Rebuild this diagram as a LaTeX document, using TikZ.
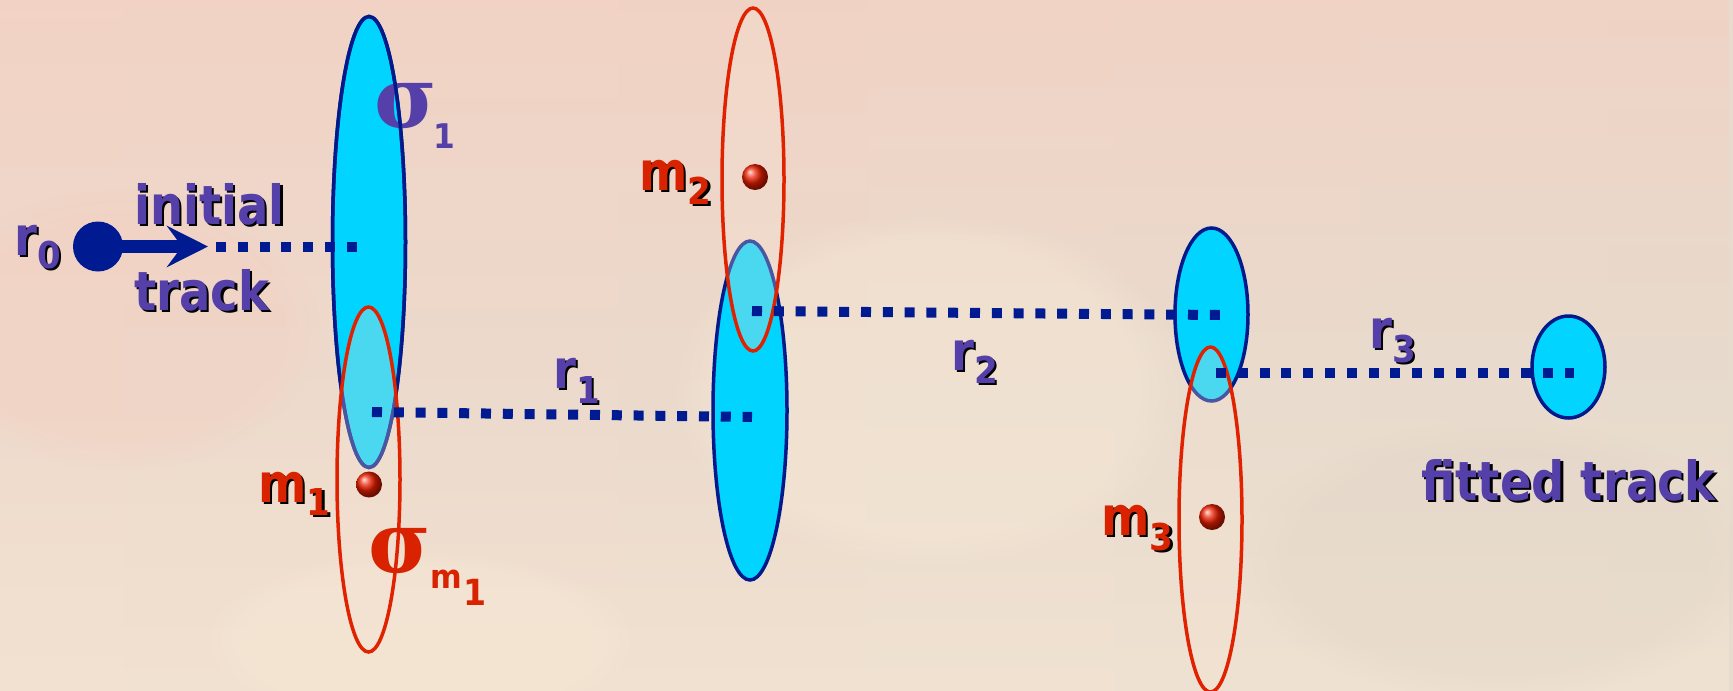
\documentclass[tikz,border=0pt]{standalone}
\usepackage{fontspec}
\setmainfont{DejaVu Sans}
\newfontfamily\labfont[FakeStretch=0.86]{DejaVu Sans}
\newfontfamily\subfont[FakeStretch=0.92]{DejaVu Sans}
\newfontfamily\grkfont{DejaVu Serif}
\usetikzlibrary{arrows.meta,fadings}
\definecolor{bgL}{RGB}{238,218,204}
\definecolor{bgR}{RGB}{231,219,205}
\definecolor{bgPink}{RGB}{245,206,192}
\definecolor{bgCream}{RGB}{247,233,214}
\definecolor{cyanfill}{RGB}{0,212,255}
\definecolor{navyline}{RGB}{0,26,140}
\definecolor{navydot}{RGB}{0,26,145}
\definecolor{redline}{RGB}{224,34,0}
\definecolor{redfill}{RGB}{246,226,210}
\definecolor{txtpurple}{RGB}{84,64,168}
\definecolor{txtred}{RGB}{216,34,0}
\definecolor{ballred}{RGB}{235,30,0}
\newcommand{\shd}[1]{\makebox[0pt][l]{\kern2.5pt\raisebox{-2.5pt}{\color{black}#1}}#1}
\newcommand{\bigsz}{\labfont\bfseries\fontsize{54}{60}\selectfont}
\newcommand{\subsz}{\subfont\bfseries\fontsize{37}{40}\selectfont}
\newcommand{\msub}[2]{\raisebox{-#1}{\subsz #2}}
\tikzset{
  lab/.style={inner sep=0pt, anchor=base west, font=\bigsz},
  purp/.style={text=txtpurple},
  redt/.style={text=txtred},
  grk/.style={inner sep=0pt, anchor=base west, font=\grkfont\bfseries\fontsize{85}{95}\selectfont},
  blueell/.style={fill=cyanfill, draw=navyline, line width=3.5pt},
  blueout/.style={draw=navyline, line width=3.5pt},
  redell/.style={draw=redline, line width=3.5pt, fill=redfill, fill opacity=0.3},
  trackdots/.style={draw=navydot, line width=10pt, dash pattern=on 10pt off 11.8pt},
  meas/.style={ball color=ballred},
}
\begin{document}
\begin{tikzpicture}[x=1pt,y=-1pt]
\useasboundingbox (0,0) rectangle (1733,691);
% background
\shade[left color=bgL, right color=bgR] (0,0) rectangle (1733,691);
\fill[bgPink, path fading=south, fill opacity=0.6] (0,0) rectangle (1733,380);
\fill[bgCream, path fading=north, fill opacity=0.5] (0,380) rectangle (1733,691);
\fill[bgCream, path fading=circle with fuzzy edge 20 percent, fill opacity=0.45] (930,390) ellipse [x radius=260pt, y radius=180pt];
\fill[bgCream, path fading=circle with fuzzy edge 20 percent, fill opacity=0.45] (420,640) ellipse [x radius=220pt, y radius=90pt];
\fill[bgPink, path fading=circle with fuzzy edge 20 percent, fill opacity=0.35] (120,330) ellipse [x radius=200pt, y radius=140pt];
\fill[bgR!90!gray, path fading=circle with fuzzy edge 20 percent, fill opacity=0.3] (1500,560) ellipse [x radius=260pt, y radius=140pt];

% blue (fitted) ellipses
\path[blueell] (369,242) ellipse [x radius=36.5pt, y radius=225.5pt];
\path[blueell] (750,410.5) ellipse [x radius=37pt, y radius=169.5pt];
\path[blueell] (1211.5,314.5) ellipse [x radius=36.5pt, y radius=86.5pt];
\path[blueell] (1568.5,367) ellipse [x radius=36.5pt, y radius=51pt];

% sigma_1 label (outline of ellipse drawn over it)
\node[grk, purp] (sig1) at (374,127) {σ\kern-3pt\msub{21pt}{\fontsize{34}{36}\selectfont 1}};
\path[blueout] (369,242) ellipse [x radius=36.5pt, y radius=225.5pt];

% red (measurement) ellipses
\path[redell] (368.5,479.5) ellipse [x radius=31.5pt, y radius=172.5pt];
\path[redell] (753,179.5) ellipse [x radius=31pt, y radius=171.5pt];
\path[redell] (1210.5,519.5) ellipse [x radius=31.5pt, y radius=172.5pt];

% sigma_m1 label
\node[grk, redt] (sigm1) at (368,572) {σ\kern0pt\msub{16pt}{\fontsize{33}{35}\selectfont m\kern1pt\raisebox{-17pt}{\fontsize{36}{38}\selectfont 1}}};

% initial point and arrow
\node[circle, fill=navydot, minimum size=50pt, inner sep=0pt] (r0dot) at (98,246.5) {};
\coordinate (arrtip) at (208,246.5);
\draw[navydot, line width=13pt, -{Stealth[length=41pt, width=41pt, inset=15pt]}] (r0dot.center) -- (arrtip);

% track segments
\coordinate (l0a) at (216,246.5); \coordinate (l0b) at (358,246.5);
\coordinate (l1a) at (372,412);   \coordinate (l1b) at (752,417);
\coordinate (l2a) at (752,311);   \coordinate (l2b) at (1220,315);
\coordinate (l3a) at (1216,373);  \coordinate (l3b) at (1574,373);
\draw[trackdots] (l0a) -- (l0b);
\draw[trackdots] (l1a) -- (l1b);
\draw[trackdots] (l2a) -- (l2b);
\draw[trackdots] (l3a) -- (l3b);

% measurement points
\shade[meas] (369,484.5) circle (13pt);
\shade[meas] (755,177) circle (13pt);
\shade[meas] (1212,517) circle (13pt);

% labels
\node[lab, purp] (r0) at (14,255) {\shd{r\msub{13pt}{0}}};
\node[lab, purp] (initial) at (134,224) {\shd{initial}};
\node[lab, purp] (track) at (134,310) {\shd{track}};
\node[lab, purp] (r1) at (553,388) {\shd{r\msub{15pt}{1}}};
\node[lab, purp] (r2) at (951,370) {\shd{r\msub{13pt}{2}}};
\node[lab, purp] (r3) at (1369,348) {\shd{r\msub{14pt}{3}}};
\node[lab, redt] (m1) at (258,502) {\shd{m\msub{13pt}{1}}};
\node[lab, redt] (m2) at (639,190) {\shd{m\msub{14pt}{2}}};
\node[lab, redt] (m3) at (1101,535) {\shd{m\msub{15pt}{3}}};
\node[lab, purp] (fitted) at (1421,500) {\shd{fitted track}};
\end{tikzpicture}
\end{document}
